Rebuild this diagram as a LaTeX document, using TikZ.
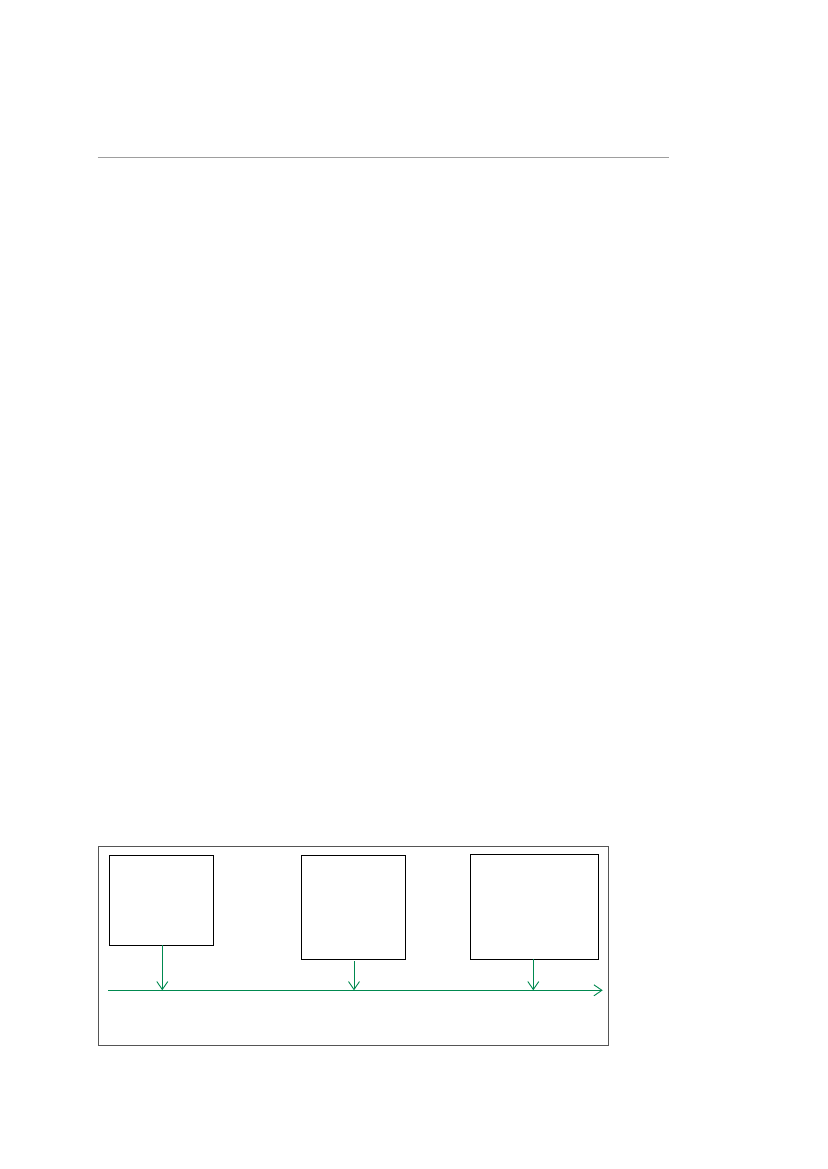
\documentclass[tikz,border=0pt]{standalone}
\usetikzlibrary{arrows.meta}
\definecolor{flowgreen}{HTML}{00894F}
\definecolor{rulegray}{HTML}{9E9E9E}
\definecolor{framegray}{HTML}{555555}
\tikzset{
  blockbox/.style={draw=black, line width=0.9pt, fill=white, inner sep=0pt, outer sep=0pt},
  framebox/.style={draw=framegray, line width=0.9pt, inner sep=0pt, outer sep=0pt},
  flowline/.style={draw=flowgreen, line width=0.9pt, -{Straight Barb[length=8pt,width=11pt]}},
  toprule/.style={draw=rulegray, line width=1.6pt}
}
\begin{document}
\begin{tikzpicture}[x=1pt,y=-1pt]
\useasboundingbox (0,0) rectangle (827,1169);
% top rule
\coordinate (ruleL) at (97.5,157.7);
\coordinate (ruleR) at (668.5,157.7);
\draw[toprule] (ruleL) -- (ruleR);
% frame
\node[framebox, minimum width=510.4pt, minimum height=199pt] (frame) at (353.5,945.5) {};
% boxes
\node[blockbox, minimum width=104.4pt, minimum height=90pt] (b1) at (161.5,900.3) {};
\node[blockbox, minimum width=104.4pt, minimum height=103.7pt] (b2) at (353.5,907.2) {};
\node[blockbox, minimum width=128pt, minimum height=104.7pt] (b3) at (534.3,906.7) {};
% main line
\coordinate (lineL) at (108.3,990.3);
\coordinate (lineR) at (602.7,990.3);
\draw[flowline] (lineL) -- (lineR);
\coordinate (t1) at (162.3,990.3);
\coordinate (t2) at (354,990.3);
\coordinate (t3) at (533.3,990.3);
\draw[flowline] (b1.south -| t1) -- (t1);
\draw[flowline, shorten <=2pt] (b2.south -| t2) -- (t2);
\draw[flowline] (b3.south -| t3) -- (t3);
\end{tikzpicture}
\end{document}
